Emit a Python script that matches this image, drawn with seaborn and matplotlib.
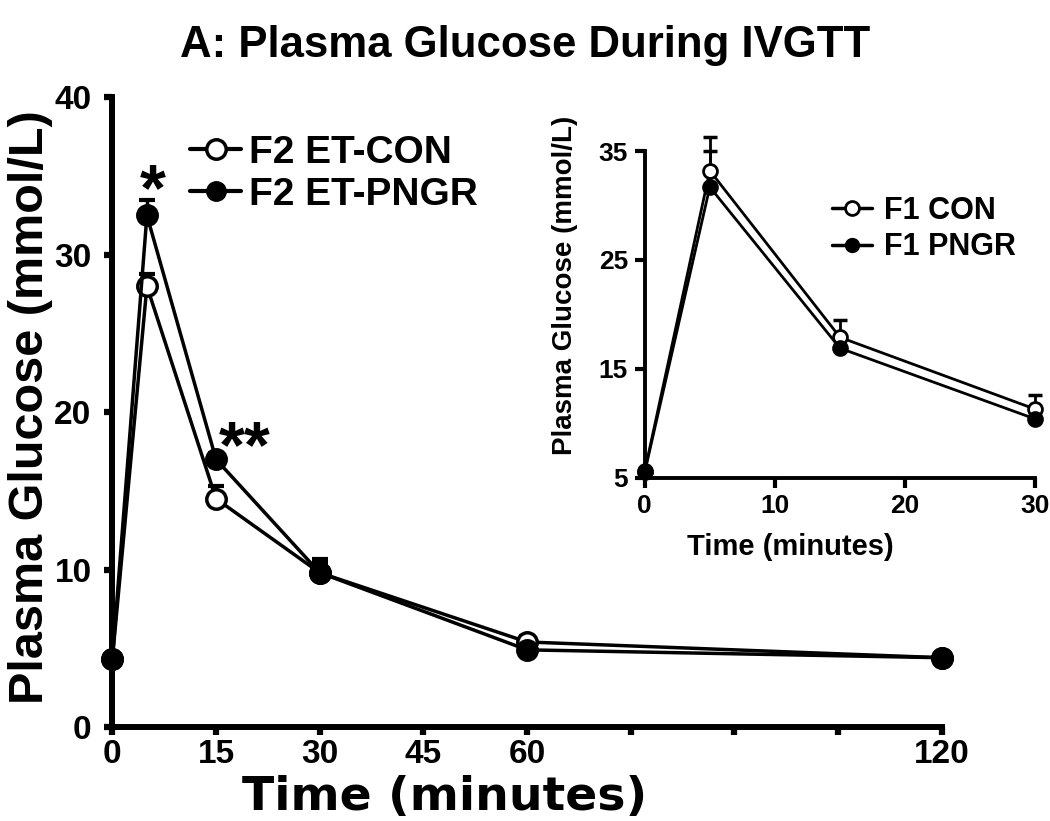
import matplotlib
matplotlib.use("Agg")
import matplotlib.pyplot as plt
import seaborn as sns
import pandas as pd

# main panel: F2 offspring (IVGTT)
time_f2 = [0, 5, 15, 30, 60, 120]
con_f2 = [4.3, 28.0, 14.5, 9.8, 5.4, 4.4]
con_f2_err = [0.0, 0.8, 0.8, 0.9, 0.4, 0.0]
pngr_f2 = [4.3, 32.5, 17.0, 9.8, 4.9, 4.4]
pngr_f2_err = [0.0, 1.0, 0.4, 0.6, 0.0, 0.0]

# inset: F1 generation
time_f1 = [0, 5, 15, 30]
con_f1 = [5.6, 33.2, 17.9, 11.3]
con_f1_err = [0.0, 3.1, 1.6, 1.3]
pngr_f1 = [5.5, 31.7, 16.9, 10.4]
pngr_f1_err = [0.0, 3.3, 0.0, 0.0]

main_ticks = [0, 15, 30, 45, 60, 75, 90, 105, 120]
main_ticklabels = ["0", "15", "30", "45", "60", "", "", "", "120"]

sns.set_style("ticks", {"axes.edgecolor": "black", "text.color": "black",
                        "axes.labelcolor": "black", "xtick.color": "black",
                        "ytick.color": "black"})
plt.rcParams["font.family"] = ["Liberation Sans", "DejaVu Sans"]
plt.rcParams["font.weight"] = "bold"

df_f2 = pd.DataFrame({
    "time": time_f2 * 2,
    "glucose": con_f2 + pngr_f2,
    "group": ["F2 ET-CON"] * len(time_f2) + ["F2 ET-PNGR"] * len(time_f2),
})
df_f1 = pd.DataFrame({
    "time": time_f1 * 2,
    "glucose": con_f1 + pngr_f1,
    "group": ["F1 CON"] * len(time_f1) + ["F1 PNGR"] * len(time_f1),
})


def up_errors(axis, x, y, err, lw, cap):
    # one-sided (upper) error bars, only where there is an error
    xs = [a for a, e in zip(x, err) if e > 0]
    ys = [b for b, e in zip(y, err) if e > 0]
    es = [e for e in err if e > 0]
    eb = axis.errorbar(xs, ys, yerr=[[0] * len(es), es], fmt="none", ecolor="black",
                       elinewidth=lw, capsize=cap, capthick=lw + 0.5, zorder=2)
    eb[1][0].set_visible(False)
    for art in list(eb[1]) + list(eb[2]):
        art.set_clip_on(False)


def draw_lines(axis, df, lw, ms, mew):
    n0 = len(axis.lines)
    sns.lineplot(data=df, x="time", y="glucose", hue="group", style="group",
                 palette=["black", "black"], markers=["o", "o"], dashes=False,
                 linewidth=lw, markersize=ms, ax=axis, legend=False, zorder=3)
    for line, face in zip(axis.lines[n0:], ["white", "black"]):
        line.set_markerfacecolor(face)
        line.set_markeredgecolor("black")
        line.set_markeredgewidth(mew)
        line.set_clip_on(False)


fig = plt.figure(figsize=(10.5, 8.21), dpi=100)
ax = fig.add_axes([0.107, 0.1145, 0.79, 0.767])

draw_lines(ax, df_f2, 2.5, 14, 2.5)
up_errors(ax, time_f2, con_f2, con_f2_err, 2.5, 6)
up_errors(ax, time_f2, pngr_f2, pngr_f2_err, 2.5, 6)

ax.set_xlim(0, 120)
ax.set_ylim(0, 40)
ax.set_xticks(main_ticks)
ax.set_xticklabels(main_ticklabels)
ax.set_yticks([0, 10, 20, 30, 40])
ax.tick_params(direction="out", length=6, width=4.5, labelsize=24)
ax.tick_params(axis="y", pad=9)
ax.tick_params(axis="x", pad=3)
for s in ["left", "bottom"]:
    ax.spines[s].set_linewidth(4.3)
sns.despine(ax=ax)
ax.set_xlabel("Time (minutes)", fontsize=34, fontweight="bold", family="DejaVu Sans")
ax.set_ylabel("Plasma Glucose (mmol/L)", fontsize=35, fontweight="bold")
ax.xaxis.set_label_coords(0.4, -0.112)
ax.xaxis.label.set_va("center")
ax.yaxis.set_label_coords(-0.099, 0.508)
ax.yaxis.label.set_va("center")

ax.text(5.9, 33.9, "*", fontsize=48, fontweight="bold", ha="center", va="center")
ax.text(19.1, 17.6, "**", fontsize=48, fontweight="bold", ha="center", va="center")

h_con = plt.Line2D([], [], color="black", lw=3, marker="o", markersize=14,
                   markerfacecolor="white", markeredgecolor="black", markeredgewidth=2.5)
h_pngr = plt.Line2D([], [], color="black", lw=3, marker="o", markersize=14,
                    markerfacecolor="black")
ax.legend([h_con, h_pngr], ["F2 ET-CON", "F2 ET-PNGR"], loc="upper left",
          bbox_to_anchor=(0.094, 0.94), frameon=False, fontsize=28,
          handlelength=1.3, handletextpad=0.2, labelspacing=0.15,
          borderpad=0, borderaxespad=0)

fig.text(0.5, 0.945, "A: Plasma Glucose During IVGTT", ha="center", va="center",
         fontsize=31.5, fontweight="bold")

# inset
axi = fig.add_axes([0.614, 0.418, 0.372, 0.398])
draw_lines(axi, df_f1, 2, 10, 2)
up_errors(axi, time_f1, con_f1, con_f1_err, 2, 5)
up_errors(axi, time_f1, pngr_f1, pngr_f1_err, 2, 5)
axi.set_xlim(0, 30)
axi.set_ylim(5, 35)
axi.set_xticks([0, 10, 20, 30])
axi.set_yticks([5, 15, 25, 35])
axi.tick_params(direction="out", length=7, width=3, labelsize=19, pad=5)
for s in ["left", "bottom"]:
    axi.spines[s].set_linewidth(2.8)
sns.despine(ax=axi)
axi.patch.set_alpha(0)
axi.set_xlabel("Time (minutes)", fontsize=21, fontweight="bold")
axi.set_ylabel("Plasma Glucose (mmol/L)", fontsize=20, fontweight="bold")
axi.xaxis.set_label_coords(0.374, -0.211)
axi.xaxis.label.set_va("center")
axi.yaxis.set_label_coords(-0.203, 0.59)
axi.yaxis.label.set_va("center")

hi_con = plt.Line2D([], [], color="black", lw=2.5, marker="o", markersize=10,
                    markerfacecolor="white", markeredgecolor="black", markeredgewidth=2)
hi_pngr = plt.Line2D([], [], color="black", lw=2.5, marker="o", markersize=10,
                     markerfacecolor="black")
axi.legend([hi_con, hi_pngr], ["F1 CON", "F1 PNGR"], loc="upper left",
           bbox_to_anchor=(0.479, 0.862), frameon=False, fontsize=22,
           handlelength=1.3, handletextpad=0.4, labelspacing=0.2,
           borderpad=0, borderaxespad=0)

fig.savefig("out.png", dpi=100)
